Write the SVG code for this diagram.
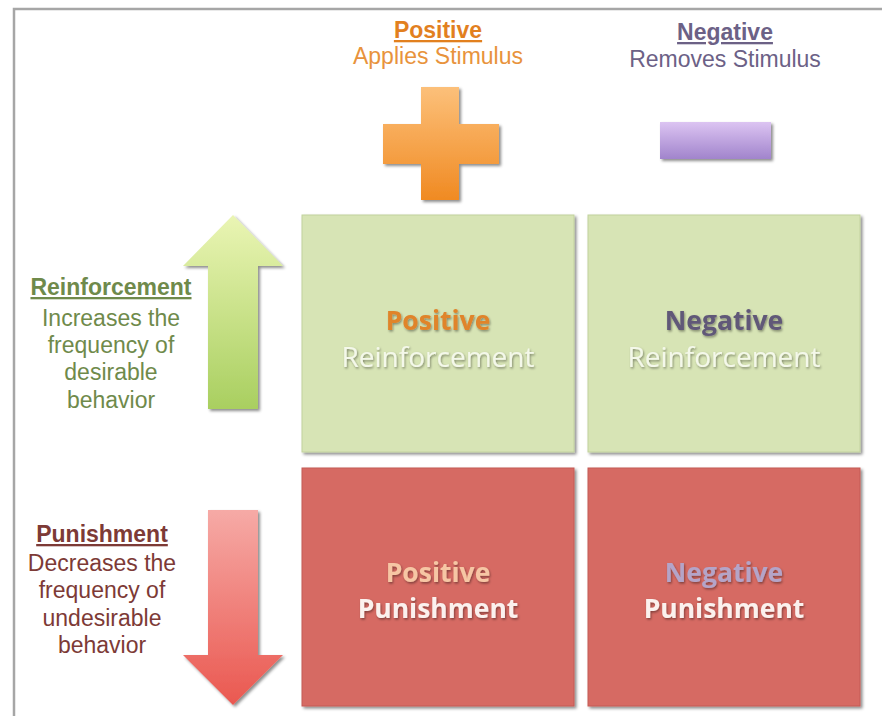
<svg xmlns="http://www.w3.org/2000/svg" width="882" height="716" viewBox="0 0 882 716">
  <defs>
    <linearGradient id="gOrange" x1="0" y1="0" x2="0" y2="1">
      <stop offset="0" stop-color="#fcc07a"/>
      <stop offset="1" stop-color="#f08a22"/>
    </linearGradient>
    <linearGradient id="gPurple" x1="0" y1="0" x2="0" y2="1">
      <stop offset="0" stop-color="#dcc4f2"/>
      <stop offset="1" stop-color="#a184cc"/>
    </linearGradient>
    <linearGradient id="gGreenArrow" x1="0" y1="0" x2="0" y2="1">
      <stop offset="0" stop-color="#eaf5b4"/>
      <stop offset="1" stop-color="#a9cf60"/>
    </linearGradient>
    <linearGradient id="gRedArrow" x1="0" y1="0" x2="0" y2="1">
      <stop offset="0" stop-color="#f6aaa6"/>
      <stop offset="1" stop-color="#ea5850"/>
    </linearGradient>
    <filter id="shadow" x="-10%" y="-10%" width="125%" height="125%">
      <feDropShadow dx="2" dy="2" stdDeviation="1.6" flood-color="#000" flood-opacity="0.45"/>
    </filter>
    <filter id="tshadow" x="-10%" y="-20%" width="125%" height="150%">
      <feDropShadow dx="1" dy="1.5" stdDeviation="0.8" flood-color="#000" flood-opacity="0.4"/>
    </filter>
  </defs>
  <style>
    .hdr { font-family: "Liberation Sans", Arial, sans-serif; font-size: 23px; text-anchor: middle; }
    .b { font-weight: bold; text-decoration: underline; }
    .side { font-family: "Liberation Sans", Arial, sans-serif; font-size: 23px; text-anchor: middle; }
    .box { font-family: "Open Sans", "Noto Sans", sans-serif; font-size: 26.5px; text-anchor: middle; }
    .reinf { font-size: 28px; }
    .green { fill: #d7e4b5; stroke: #c2d29e; stroke-width: 1; }
    .red { fill: #d66a64; stroke: #c45a55; stroke-width: 1; }
  </style>
  <rect width="882" height="716" fill="#ffffff"/>
  <!-- frame -->
  <path d="M14,716 V9 H882" fill="none" stroke="#a6a6a6" stroke-width="2.5"/>

  <g id="positive-header">
    <text class="hdr b" x="438" y="38" fill="#e2801f">Positive</text>
    <text class="hdr" x="438" y="64" fill="#e8933c">Applies Stimulus</text>
  </g>
  <g id="negative-header">
    <text class="hdr b" x="725" y="40" fill="#6c6186">Negative</text>
    <text class="hdr" x="725" y="67" fill="#6c6186">Removes Stimulus</text>
  </g>
  <g id="plus" filter="url(#shadow)">
    <path d="M421,87 H459 V124 H499 V164 H459 V200 H421 V164 H383 V124 H421 Z" fill="url(#gOrange)"/>
  </g>
  <g id="minus" filter="url(#shadow)">
    <rect x="660" y="122" width="111" height="37" fill="url(#gPurple)"/>
  </g>

  <g id="reinforcement-label">
    <text class="side b" x="111" y="295" fill="#6f8a4b">Reinforcement</text>
    <text class="side" x="111" y="326" fill="#6f8a4b">Increases the</text>
    <text class="side" x="111" y="353" fill="#6f8a4b">frequency of</text>
    <text class="side" x="111" y="380" fill="#6f8a4b">desirable</text>
    <text class="side" x="111" y="408" fill="#6f8a4b">behavior</text>
  </g>
  <g id="punishment-label">
    <text class="side b" x="102" y="542" fill="#7d3a36">Punishment</text>
    <text class="side" x="102" y="571" fill="#7d3a36">Decreases the</text>
    <text class="side" x="102" y="598" fill="#7d3a36">frequency of</text>
    <text class="side" x="102" y="626" fill="#7d3a36">undesirable</text>
    <text class="side" x="102" y="653" fill="#7d3a36">behavior</text>
  </g>

  <g id="up-arrow" filter="url(#shadow)">
    <path d="M233,215 L283,266 H258 V409 H208 V266 H183 Z" fill="url(#gGreenArrow)"/>
  </g>
  <g id="down-arrow" filter="url(#shadow)">
    <path d="M208,510 H258 V655 H283 L233,705 L183,655 H208 Z" fill="url(#gRedArrow)"/>
  </g>

  <g id="positive-reinforcement">
    <rect class="green" x="302" y="215" width="272" height="237" filter="url(#shadow)"/>
    <text class="box" x="438" y="330" fill="#e0842a" font-weight="bold" filter="url(#tshadow)">Positive</text>
    <text class="box reinf" x="438" y="367" fill="#f4f8ea" filter="url(#tshadow)">Reinforcement</text>
  </g>
  <g id="negative-reinforcement">
    <rect class="green" x="588" y="215" width="272" height="237" filter="url(#shadow)"/>
    <text class="box" x="724" y="330" fill="#615878" font-weight="bold" filter="url(#tshadow)">Negative</text>
    <text class="box reinf" x="724" y="367" fill="#f4f8ea" filter="url(#tshadow)">Reinforcement</text>
  </g>
  <g id="positive-punishment">
    <rect class="red" x="302" y="468" width="272" height="238" filter="url(#shadow)"/>
    <text class="box" x="438" y="582" fill="#f6c6a4" font-weight="bold" filter="url(#tshadow)">Positive</text>
    <text class="box" x="438" y="618" fill="#fbf1ee" font-weight="bold" filter="url(#tshadow)">Punishment</text>
  </g>
  <g id="negative-punishment">
    <rect class="red" x="588" y="468" width="272" height="238" filter="url(#shadow)"/>
    <text class="box" x="724" y="582" fill="#b4a4c8" font-weight="bold" filter="url(#tshadow)">Negative</text>
    <text class="box" x="724" y="618" fill="#fbf1ee" font-weight="bold" filter="url(#tshadow)">Punishment</text>
  </g>
  <g id="connectors"/>
</svg>
